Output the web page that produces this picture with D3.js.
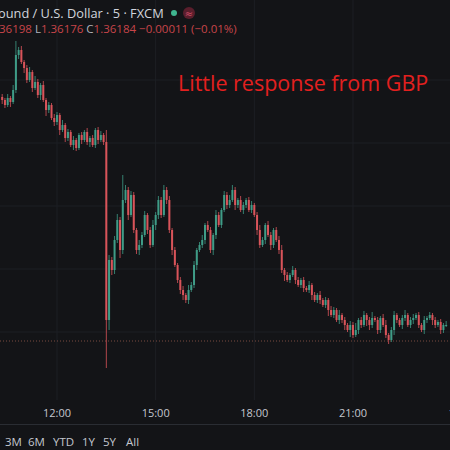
<!DOCTYPE html>
<html><head><meta charset="utf-8">
<script src="https://cdn.jsdelivr.net/npm/d3@7"></script>
<style>body{margin:0;background:#131417;}svg{display:block}</style>
</head><body><svg id="c" width="450" height="450"></svg>
<script>
// price in points: 1.36000 + v/100000
const firstOpen = 640;
const closes = [634,624,638,630,654,724,734,710,698,674,690,658,670,644,664,634,614,624,598,590,604,574,584,558,570,544,554,538,564,554,570,550,558,544,574,554,564,550,
194,314,294,354,394,334,434,454,404,444,374,334,344,364,404,374,344,384,404,434,404,454,434,374,334,304,274,254,244,234,254,264,304,334,344,354,384,374,334,364,404,384,414,444,424,434,454,424,434,414,424,434,414,424,404,374,344,354,384,364,344,374,354,334,294,284,274,284,294,274,264,274,258,254,264,244,234,244,234,224,234,214,204,214,194,204,194,184,174,184,164,174,194,184,204,194,184,198,194,174,198,184,164,154,174,204,194,184,198,204,184,194,198,204,184,174,194,198,204,194,184,190,174,184,184];
const wickUp = [6,4,8,4,10,28,6,8,4,6,10,4,12,6,4,8,4,6,4,8,6,4,10,4,6,4,8,4,4,6,4,8,4,6,4,6,8,4,
24,10,6,8,12,6,50,10,6,8,6,4,10,6,8,4,6,10,6,8,6,10,6,8,4,6,4,6,8,4,10,6,8,4,6,10,4,8,6,4,10,6,4,8,6,10,10,6,4,8,6,4,6,8,4,6,10,6,4,8,6,4,6,8,10,4,6,4,8,4,6,4,6,4,8,4,6,4,8,4,6,4,8,6,4,10,4,6,4,8,6,14,4,6,8,4,6,12,4,6,4,8,10,4,6,8,4,4,6,10,4,6,8,4,6,4,8,4,6,4,6,4,
6,4,8,4,6,10,4,6,8,4,6,4];
const wickDn = [8,6,4,10,4,6,8,4,10,6,4,8,4,6,10,4,12,6,4,8,6,10,4,8,6,4,10,6,4,8,4,6,10,4,6,8,4,6,
96,20,10,8,6,16,8,6,10,4,6,8,10,6,4,8,6,4,10,8,6,4,8,6,10,4,6,8,10,6,8,4,6,10,4,6,8,4,6,10,8,4,6,4,8,6,4,10,6,4,8,6,4,6,4,10,6,4,8,4,10,6,4,8,6,12,4,6,4,8,4,6,8,4,6,10,4,6,8,4,6,12,4,6,4,8,6,10,4,14,6,4,8,6,4,12,10,6,4,8,6,4,6,8,4,10,6,4,8,6,4,6,8,4,6,
4,8,6,4,10,6,4,8,6,4,6,8];
const timeTicks = ["12:00","15:00","18:00","21:00","1"];
const rangeButtons = ["3M","6M","YTD","1Y","5Y","All"];
const priceGrid = [674,548,422,296,170];
const refLevel = 152;
const headerTitle = "ound / U.S. Dollar · 5 · FXCM";
const annotation = "Little response from GBP";

const svg = d3.select("#c");
svg.append("rect").attr("width",450).attr("height",450).attr("fill","#131417");
const t0 = new Date(2024,0,1,10,20);
const bars = closes.map((c,i)=>{
  const o = i===0?firstOpen:closes[i-1];
  return {t:new Date(t0.getTime()+i*300000),o,c,h:Math.max(o,c)+wickUp[i],l:Math.min(o,c)-wickDn[i]};
});
const x = d3.scaleTime().domain([new Date(2024,0,1,10,16),new Date(2024,0,1,23,57)]).range([0,450]);
const y = d3.scaleLinear().domain([98,734]).range([368,50]);

const g = svg.append("g");
priceGrid.forEach(v=>g.append("line").attr("x1",0).attr("x2",450).attr("y1",y(v)).attr("y2",y(v)).attr("stroke","#1d1f24"));
const tickTimes = [12,15,18,21,24].map(h=>new Date(2024,0,1,h,0));
tickTimes.forEach(t=>g.append("line").attr("x1",x(t)).attr("x2",x(t)).attr("y1",0).attr("y2",400).attr("stroke","#1d1f24"));
g.append("line").attr("x1",0).attr("x2",450).attr("y1",y(refLevel)).attr("y2",y(refLevel))
 .attr("stroke","#7a4a40").attr("stroke-dasharray","1,2");

const up="#3f9c87", dn="#d9545a";
const cg = g.append("g");
cg.selectAll("line").data(bars).join("line")
 .attr("x1",d=>x(d.t)).attr("x2",d=>x(d.t)).attr("y1",d=>y(d.h)).attr("y2",d=>y(d.l))
 .attr("stroke",d=>d.c>=d.o?up:dn).attr("stroke-width",0.8);
cg.selectAll("rect").data(bars).join("rect")
 .attr("x",d=>x(d.t)-1).attr("width",2)
 .attr("y",d=>y(Math.max(d.o,d.c))).attr("height",d=>Math.max(1,Math.abs(y(d.o)-y(d.c))))
 .attr("fill",d=>d.c>=d.o?up:dn);

svg.append("text").attr("x",178).attr("y",91).attr("fill","#e3201f")
 .attr("font-family","Open Sans, sans-serif").attr("font-size",21.5).text(annotation);

// header
svg.append("text").attr("x",-2).attr("y",18).attr("fill","#d1d4dc").attr("font-family","Open Sans, sans-serif").attr("font-size",12.8).text(headerTitle);
svg.append("circle").attr("cx",174).attr("cy",13).attr("r",3).attr("fill","#3fb58f");
svg.append("circle").attr("cx",189).attr("cy",13).attr("r",6).attr("fill","#5a1e2c");
svg.append("text").attr("x",189).attr("y",17).attr("text-anchor","middle").attr("fill","#d0506a").attr("font-size",10).attr("font-family","DejaVu Sans").text("≈");
const hd = svg.append("text").attr("x",-1).attr("y",33).attr("font-family","Open Sans, sans-serif").attr("font-size",11.5);
[["36198 ","#c8454a"],["L","#b0b3bb"],["1.36176 ","#c8454a"],["C","#b0b3bb"],["1.36184 ","#c8454a"],["−0.00011 (−0.01%)","#c8454a"]]
 .forEach(([s,c])=>hd.append("tspan").attr("fill",c).text(s));

// time axis
svg.append("rect").attr("x",0).attr("y",400).attr("width",450).attr("height",50).attr("fill","#131417");
tickTimes.forEach((t,i)=>svg.append("text").attr("x",x(t)).attr("y",417).attr("text-anchor","middle")
 .attr("fill","#c4c7cf").attr("font-family","Open Sans, sans-serif").attr("font-size",11).text(timeTicks[i]));
svg.append("line").attr("x1",0).attr("x2",450).attr("y1",424.5).attr("y2",424.5).attr("stroke","#2a2d33");
const bxs=[5,28,53,82,103,126];
rangeButtons.forEach((b,i)=>svg.append("text").attr("x",bxs[i]).attr("y",446).attr("fill","#c4c7cf")
 .attr("font-family","Open Sans, sans-serif").attr("font-size",11.5).text(b));
</script></body></html>
